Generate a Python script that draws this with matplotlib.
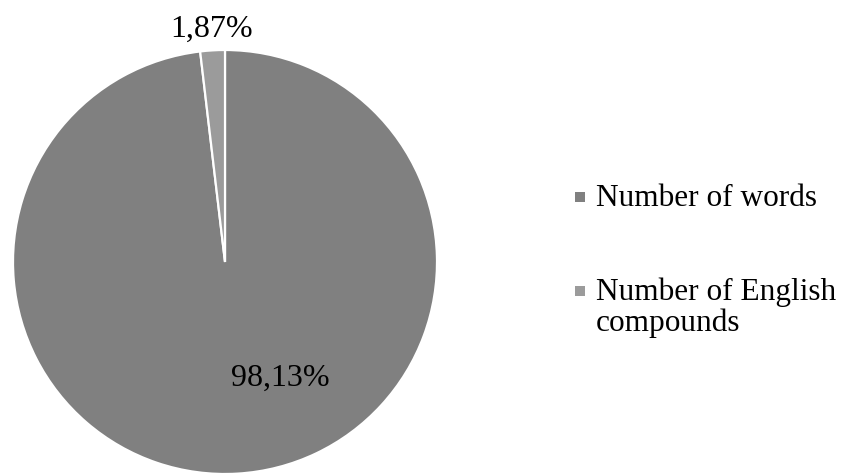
import matplotlib.pyplot as plt
from matplotlib.patches import Rectangle
import numpy as np

# data
labels = ["Number of words", "Number of English\ncompounds"]
shares = [98.13, 1.87]
colors = ["#808080", "#9b9b9b"]

plt.rcParams["font.family"] = ["Liberation Serif", "DejaVu Serif"]

W, H = 851, 473
fig = plt.figure(figsize=(W / 100, H / 100), dpi=100)
ax = fig.add_axes([13 / W, (H - 262 - 212) / H, 424 / W, 424 / H])

wedges, _ = ax.pie(
    shares,
    colors=colors,
    startangle=90,
    counterclock=False,
    radius=1.0,
    wedgeprops=dict(edgecolor="white", linewidth=1.6),
)
ax.set_xlim(-1, 1)
ax.set_ylim(-1, 1)
ax.set_aspect("equal")

# percentage labels (comma decimal)
fmt = lambda v: f"{v:.2f}%".replace(".", ",")
ax.text(0.26, -0.55, fmt(shares[0]), ha="center", va="center", fontsize=23)
mid = np.deg2rad(90 + shares[1] / 100 * 360 / 2)
ax.text(1.10 * np.cos(mid), 1.10 * np.sin(mid), fmt(shares[1]),
        ha="center", va="center", fontsize=23)

# legend, handle next to the first text line
baselines = [206, 300]
line_px = 31
for lab, col, yb in zip(labels, colors, baselines):
    fig.add_artist(Rectangle((575 / W, (H - yb + 4) / H), 10 / W, 10 / H,
                             transform=fig.transFigure, facecolor=col,
                             edgecolor="none"))
    for j, line in enumerate(lab.split("\n")):
        fig.text(596 / W, (H - yb - j * line_px) / H, line, ha="left",
                 va="baseline", fontsize=22.5)

fig.savefig("out.png", dpi=100)
